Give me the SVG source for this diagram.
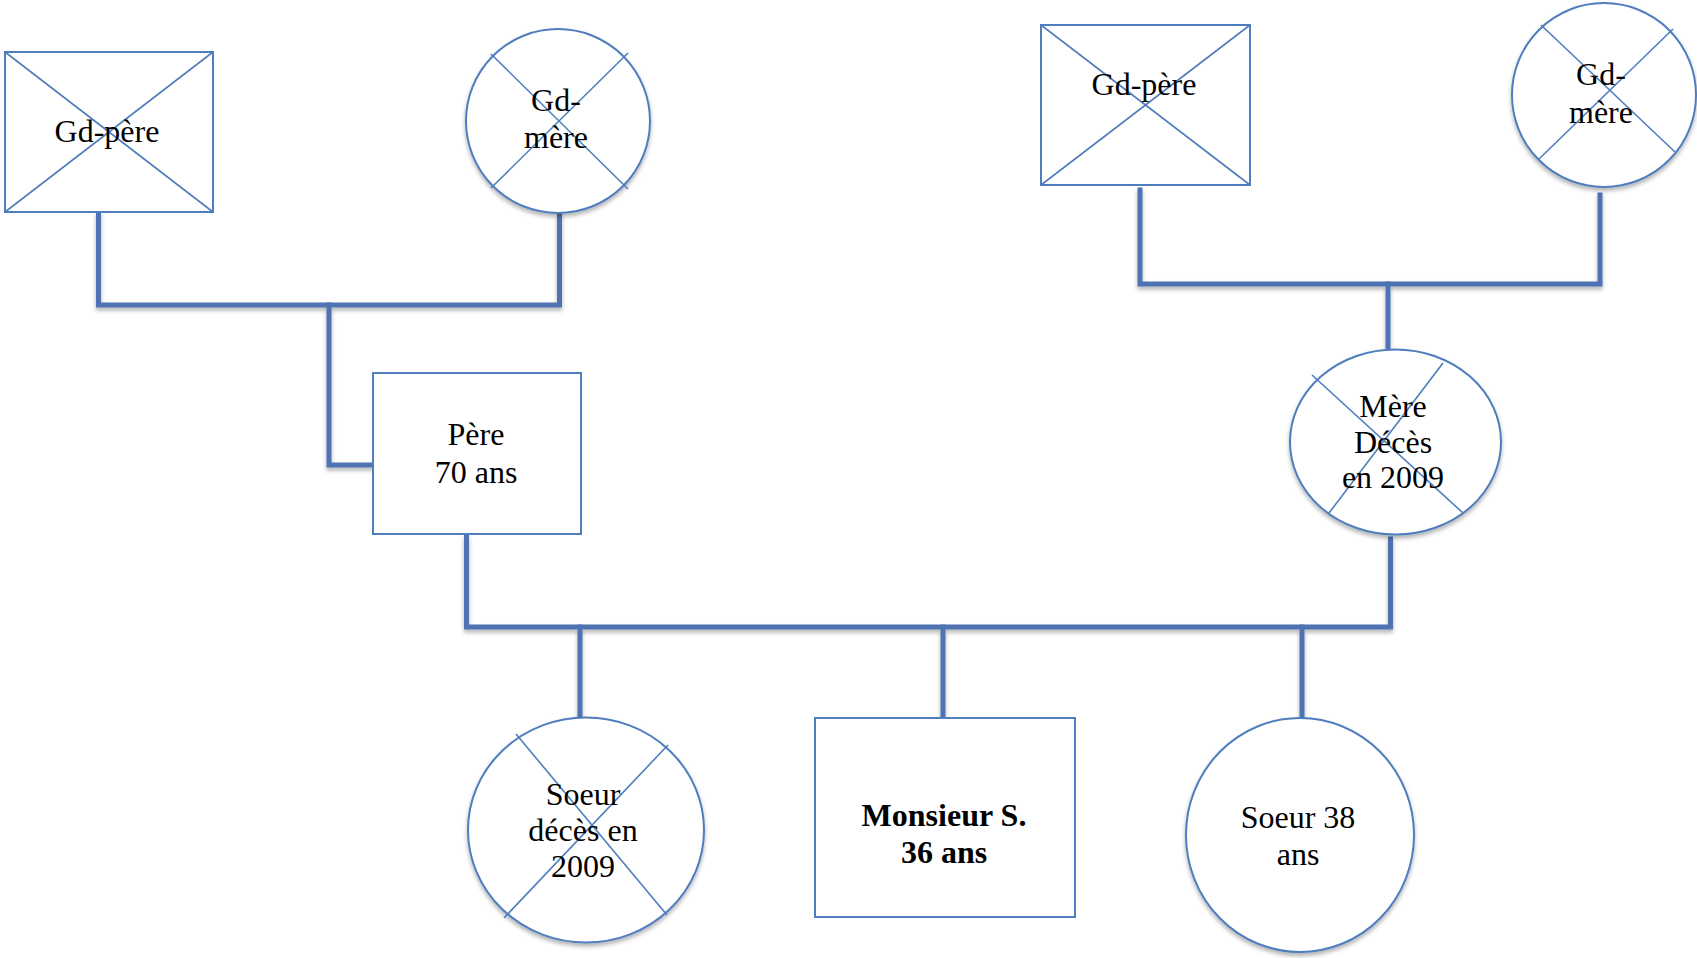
<svg xmlns="http://www.w3.org/2000/svg" width="1697" height="958" viewBox="0 0 1697 958">
<style>
.node{fill:#ffffff;stroke:#4f7dbd;stroke-width:2}
.x{stroke:#4f7dbd;stroke-width:1.6;fill:none}
.t{font-family:"Liberation Serif","Times New Roman",serif;font-size:32px;fill:#000;text-anchor:middle}
.b{font-weight:bold}
.c{fill:none;stroke:#4f73b2;stroke-width:5;stroke-linecap:square;stroke-linejoin:miter}
</style>
<defs>
<filter id="sh" x="-10%" y="-10%" width="120%" height="125%">
<feDropShadow dx="0" dy="3" stdDeviation="2" flood-color="#000" flood-opacity="0.3"/>
</filter>
</defs>
<rect width="1697" height="958" fill="#ffffff"/>
<g id="connectors" filter="url(#sh)">
<path class="c" d="M98.5 214 V305 H559.5 V215"/>
<path class="c" d="M329 305 V465 H371"/>
<path class="c" d="M1140 190 V284 H1600 V195"/>
<path class="c" d="M1388 284 V348"/>
<path class="c" d="M466.5 537 V627 H1390.5 V539"/>
<path class="c" d="M580 627 V716"/>
<path class="c" d="M943 627 V716"/>
<path class="c" d="M1302 627 V716"/>
</g>
<g id="gdpere-left">
<rect class="node" x="5" y="52" width="208" height="160"/>
<line class="x" x1="5" y1="52" x2="213" y2="212"/>
<line class="x" x1="213" y1="52" x2="5" y2="212"/>
<text class="t" x="107" y="142">Gd-père</text>
</g>
<g id="gdmere-left">
<ellipse class="node" cx="558" cy="121" rx="92" ry="92" filter="url(#sh)"/>
<line class="x" x1="491" y1="54" x2="628" y2="189"/>
<line class="x" x1="628" y1="53" x2="491" y2="188"/>
<text class="t" x="556" y="111">Gd-</text>
<text class="t" x="556" y="148">mère</text>
</g>
<g id="gdpere-right">
<rect class="node" x="1041" y="25" width="209" height="160"/>
<line class="x" x1="1041" y1="25" x2="1250" y2="185"/>
<line class="x" x1="1250" y1="25" x2="1041" y2="185"/>
<text class="t" x="1144" y="95">Gd-père</text>
</g>
<g id="gdmere-right">
<ellipse class="node" cx="1604" cy="95" rx="92" ry="92" filter="url(#sh)"/>
<line class="x" x1="1541" y1="25" x2="1675" y2="152"/>
<line class="x" x1="1673" y1="29" x2="1539" y2="159"/>
<text class="t" x="1601" y="85">Gd-</text>
<text class="t" x="1601" y="123">mère</text>
</g>
<g id="pere">
<rect class="node" x="373" y="373" width="208" height="161"/>
<text class="t" x="476" y="445">Père</text>
<text class="t" x="476" y="483">70 ans</text>
</g>
<g id="mere">
<ellipse class="node" cx="1395.5" cy="442" rx="105.5" ry="92.5" filter="url(#sh)"/>
<line class="x" x1="1312" y1="375" x2="1463" y2="513"/>
<line class="x" x1="1443" y1="363" x2="1329" y2="513"/>
<text class="t" x="1393" y="417">Mère</text>
<text class="t" x="1393" y="453">Décès</text>
<text class="t" x="1393" y="488">en 2009</text>
</g>
<g id="soeur-decedee">
<ellipse class="node" cx="586" cy="830" rx="118" ry="112.5" filter="url(#sh)"/>
<line class="x" x1="516" y1="734" x2="667" y2="915"/>
<line class="x" x1="668" y1="745" x2="504" y2="918"/>
<text class="t" x="583" y="805">Soeur</text>
<text class="t" x="583" y="841">décès en</text>
<text class="t" x="583" y="877">2009</text>
</g>
<g id="monsieur">
<rect class="node" x="815" y="718" width="260" height="199"/>
<text class="t b" x="944" y="826">Monsieur S.</text>
<text class="t b" x="944" y="863">36 ans</text>
</g>
<g id="soeur-38">
<ellipse class="node" cx="1300" cy="835" rx="114" ry="117" filter="url(#sh)"/>
<text class="t" x="1298" y="828">Soeur 38</text>
<text class="t" x="1298" y="865">ans</text>
</g>
</svg>
